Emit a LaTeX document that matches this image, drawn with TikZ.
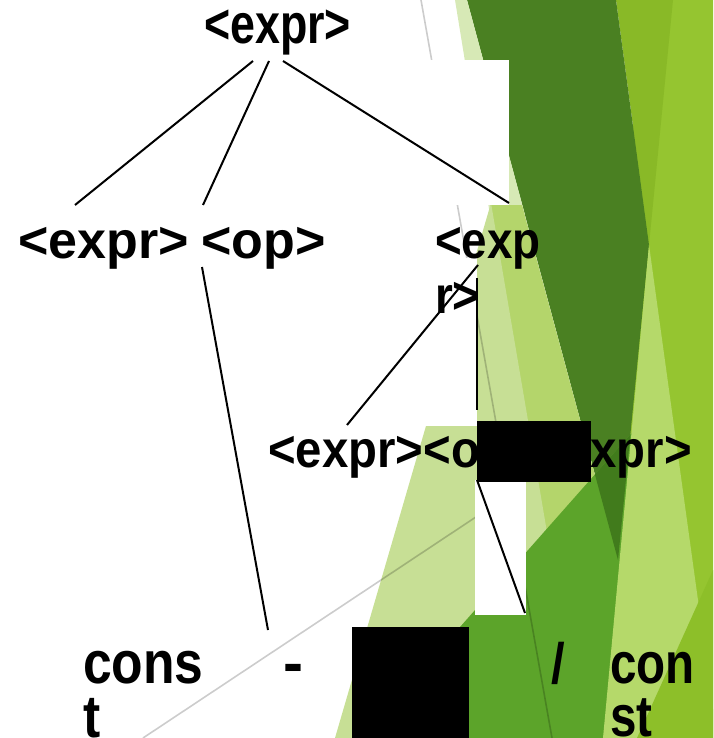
\documentclass[tikz,border=0pt]{standalone}
\usepackage{fontspec}
\setmainfont{Liberation Sans}
\definecolor{facetdark}{HTML}{4A8022}
\definecolor{facetdeep}{HTML}{417B1C}
\definecolor{facetmid}{HTML}{89B927}
\definecolor{facetbright}{HTML}{95C530}
\definecolor{facetlime}{HTML}{8DBF29}
\definecolor{facetstrip}{HTML}{D7E9B6}
\definecolor{facetpale}{HTML}{C7DF95}
\definecolor{facetlight}{HTML}{B4D56B}
\definecolor{facetleaf}{HTML}{B5D96A}
\definecolor{facetgrass}{HTML}{5CA42A}
\tikzstyle{sym}=[anchor=base west, inner sep=0pt, align=left, text=black]
\tikzstyle{edge}=[line width=2pt, black]
\tikzstyle{guide}=[line width=1.6pt, black, opacity=0.2]
\newcommand{\treefont}[2]{\fontsize{#1}{#2}\selectfont\bfseries}

\begin{document}
\begin{tikzpicture}[x=1pt, y=-1pt]
\useasboundingbox (0, 0) rectangle (713, 738);
\clip (0, 0) rectangle (713, 738);
% background facets
\fill[facetbright] (640, 0) -- (713, 0) -- (713, 738) -- (600, 738) -- cycle;
\fill[facetmid] (616, 0) -- (673, 0) -- (649, 245) -- cycle;
\fill[facetdark] (467, 0) -- (616, 0) -- (649, 245) -- (618, 560) -- cycle;
\fill[facetstrip] (455, 0) -- (467, 0) -- (525, 215) -- (490, 215) -- cycle;
\fill[facetlight] (490, 205) -- (522, 205) -- (618, 560) -- (603, 738) -- (582, 738) -- cycle;
\fill[facetpale] (491, 203) -- (582, 738) -- (335, 738) -- cycle;
\fill[facetgrass] (364, 738) -- (460, 627) -- (590, 480) -- (645, 418) -- (660, 738) -- cycle;
\begin{scope}
\clip (364, 738) -- (460, 627) -- (590, 480) -- (645, 418) -- (660, 738) -- cycle;
\fill[facetdeep] (467, 0) -- (616, 0) -- (649, 245) -- (618, 560) -- cycle;
\end{scope}
\fill[facetleaf] (649, 245) -- (717, 738) -- (603, 738) -- cycle;
\fill[facetlime] (713, 570) -- (713, 738) -- (637, 738) -- cycle;
% thin grey guides
\coordinate (g1) at (421, 0);
\coordinate (g2) at (552, 738);
\coordinate (g3) at (143, 738);
\coordinate (g4) at (500, 501);
\draw[guide] (g1) -- (g2);
\draw[guide] (g3) -- (g4);
% white patches
\fill[white] (420, 60) rectangle (509, 205);
\fill[white] (400, 258) rectangle (477, 426);
\fill[white] (475, 480) rectangle (526, 615);
% tree
\coordinate (r1) at (253, 61);
\coordinate (r2) at (269, 61);
\coordinate (r3) at (283, 61);
\coordinate (a1) at (75, 205);
\coordinate (b1) at (203, 205);
\coordinate (c1) at (509, 203);
\coordinate (b2) at (202, 267);
\coordinate (m1) at (268, 630);
\coordinate (c2) at (478, 265);
\coordinate (c3) at (477, 278);
\coordinate (d1) at (347, 425);
\coordinate (d2) at (477, 410);
\coordinate (d3) at (477, 480);
\coordinate (s1) at (525, 613);
\draw[edge] (r1) -- (a1);
\draw[edge] (r2) -- (b1);
\draw[edge] (r3) -- (c1);
\draw[edge] (b2) -- (m1);
\draw[edge] (c2) -- (d1);
\draw[edge] (c3) -- (d2);
\draw[edge] (d3) -- (s1);
\node[sym, xscale=0.8, font=\treefont{56}{56}] at (204, 44) (expr) {<expr>};
\node[sym, font=\treefont{52}{55}] at (18, 258) (exprL) {<expr>};
\node[sym, font=\treefont{52}{55}] at (201, 258) (opL) {<op>};
\node[sym, xscale=0.88, font=\treefont{52}{55}] at (435, 313) (exprR) {<exp\\r>};
\node[sym, xscale=0.91, font=\treefont{52}{55}] at (268, 467) (exprRow) {<expr><op><expr>};
\node[sym, xscale=0.86, font=\treefont{60}{54}] at (83, 737) (constL) {cons\\t};
\node[sym, font=\treefont{60}{62}] at (283, 683) (minus) {-};
\node[sym, xscale=0.86, font=\treefont{57}{60}] at (551, 683) (slash) {/};
\node[sym, xscale=0.82, font=\treefont{58}{53}] at (610, 736) (constR) {con\\st};
% black patches
\fill[black] (477, 421) rectangle (591, 482);
\fill[black] (352, 627) rectangle (469, 738);
\end{tikzpicture}
\end{document}
